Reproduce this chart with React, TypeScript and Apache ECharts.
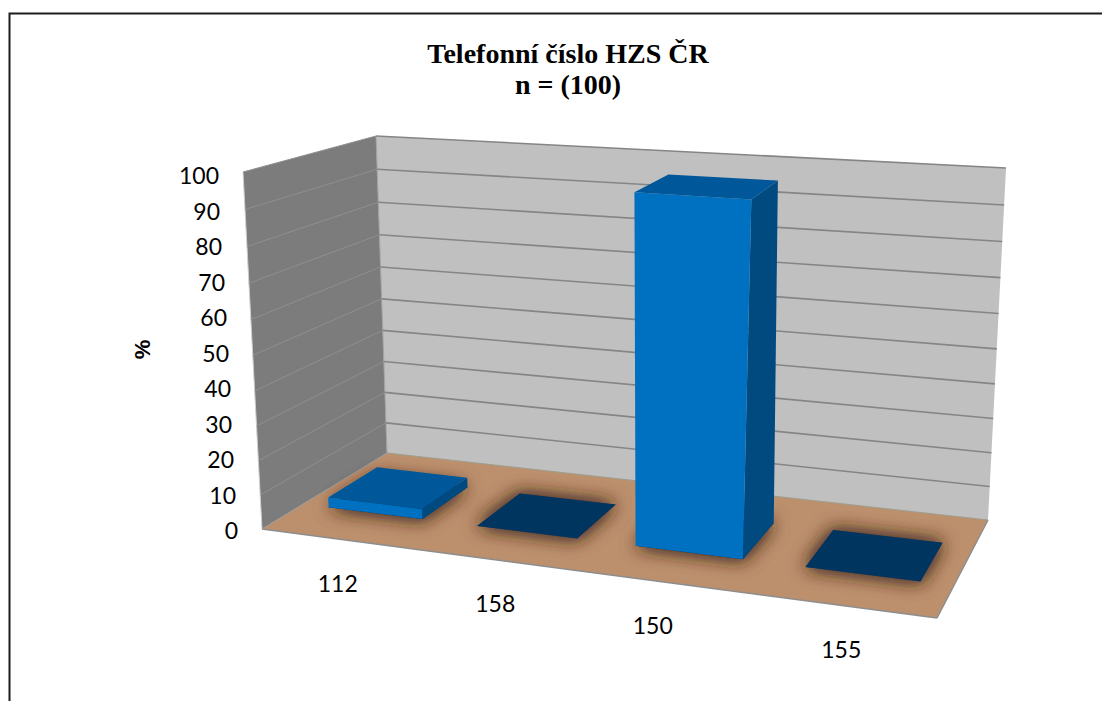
import React, { useEffect, useRef } from "react";
import * as echarts from "echarts";

const categories = ["112", "158", "150", "155"];
const percentValues = [3, 0, 97, 0];
const yTicks = [0, 10, 20, 30, 40, 50, 60, 70, 80, 90, 100];
const yLabelIndent: Record<number, number> = { 100: 19, 90: 18, 80: 16, 70: 13, 60: 11, 50: 9, 40: 7, 30: 6, 20: 4, 10: 2, 0: 0 };
const catLabelOffset = [
  [0, 0],
  [20, 0],
  [42, 0],
  [66, 62],
];
const titleText = "Telefonní číslo HZS ČR\nn = (100)";
const yName = "%";

type P = [number, number];
function quadMap(p0: P, p1: P, p2: P, p3: P) {
  const dx1 = p1[0] - p2[0], dx2 = p3[0] - p2[0], sx = p0[0] - p1[0] + p2[0] - p3[0];
  const dy1 = p1[1] - p2[1], dy2 = p3[1] - p2[1], sy = p0[1] - p1[1] + p2[1] - p3[1];
  const den = dx1 * dy2 - dx2 * dy1;
  const g = (sx * dy2 - dx2 * sy) / den;
  const h = (dx1 * sy - sx * dy1) / den;
  const a = p1[0] - p0[0] + g * p1[0], b = p3[0] - p0[0] + h * p3[0], c = p0[0];
  const d = p1[1] - p0[1] + g * p1[1], e = p3[1] - p0[1] + h * p3[1], f = p0[1];
  return (u: number, v: number): P => {
    const w = g * u + h * v + 1;
    return [(a * u + b * v + c) / w, (d * u + e * v + f) / w];
  };
}
// front-left, front-right, back-right, back-left
const floorMap = quadMap([262, 529], [937, 618], [988, 520], [387, 453]);
const ceilMap = quadMap([243, 172], [982, 220], [1006, 168], [376, 136]);
const project = (u: number, v: number, t0: number): P => {
  const t = t0 - 0.055 * t0 * (1 - t0); // foreshortening of the height axis
  const a = floorMap(u, v), b = ceilMap(u, v);
  return [a[0] + (b[0] - a[0]) * t, a[1] + (b[1] - a[1]) * t];
};

const GRID = { left: 259, right: 213, top: 175, bottom: 171 };
const BAR_FRACTION = 0.64;
const DEPTH0 = 0.3, DEPTH1 = 0.7;

const poly = (points: P[], style: any) => ({ type: "polygon", shape: { points }, style, silent: true });
const seg = (a: P, b: P, stroke: string, lineWidth: number) => ({
  type: "line",
  shape: { x1: a[0], y1: a[1], x2: b[0], y2: b[1] },
  style: { stroke, lineWidth },
  silent: true,
});

export default function App() {
  const ref = useRef<HTMLDivElement>(null);
  useEffect(() => {
    const chart = echarts.init(ref.current!, undefined, { renderer: "svg" });
    const rich: any = {};
    yTicks.forEach((t) => {
      rich["y" + t] = { fontFamily: "Lato", fontSize: 23, color: "#000", padding: [0, yLabelIndent[t], 0, 0] };
    });
    categories.forEach((c, i) => {
      rich["c" + i] = {
        fontFamily: "Lato",
        fontSize: 23,
        color: "#000",
        padding: [catLabelOffset[i][0], 0, 0, catLabelOffset[i][1]],
      };
    });
    chart.setOption({
      animation: false,
      backgroundColor: "#fff",
      title: {
        text: titleText,
        left: 563,
        top: 33,
        textAlign: "center",
        textStyle: { fontFamily: "Liberation Serif", fontWeight: "bold", fontSize: 28, lineHeight: 31, color: "#000" },
      },
      grid: GRID,
      xAxis: {
        type: "category",
        data: categories,
        axisLine: { show: false },
        axisTick: { show: false },
        splitLine: { show: false },
        axisLabel: {
          margin: 41,
          interval: 0,
          formatter: (v: string) => `{c${categories.indexOf(v)}|${v}}`,
          rich,
        },
      },
      yAxis: {
        type: "value",
        min: 0,
        max: 100,
        interval: 10,
        name: yName,
        nameLocation: "middle",
        nameRotate: 90,
        nameGap: 106,
        nameTextStyle: { fontFamily: "Liberation Sans", fontWeight: "bold", fontSize: 22, color: "#000", padding: [0, 0, 0, 6] },
        axisLine: { show: false },
        axisTick: { show: false },
        splitLine: { show: false },
        axisLabel: { margin: 21, formatter: (v: number) => `{y${v}|${v}}`, rich },
      },
      graphic: [
        {
          type: "polyline",
          shape: { points: [[9.5, 701], [9.5, 13.5], [1102, 13.5]] },
          style: { stroke: "#1c1c1c", lineWidth: 2, fill: "none" },
          silent: true,
        },
      ],
      series: [
        {
          type: "custom",
          name: "walls",
          coordinateSystem: "cartesian2d",
          data: [[0, 0]],
          encode: { x: 0, y: 1 },
          z: 1,
          renderItem: () => ({
            type: "group",
            children: [
              poly([project(0, 0, 0), project(0, 1, 0), project(0, 1, 1), project(0, 0, 1)], { fill: "#7c7c7c" }),
              poly([project(0, 1, 0), project(1, 1, 0), project(1, 1, 1), project(0, 1, 1)], { fill: "#c0c0c0" }),
              poly([project(0, 0, 0), project(1, 0, 0), project(1, 1, 0), project(0, 1, 0)], { fill: "#bc906d" }),
              seg(project(0, 0, 0), project(1, 0, 0), "#8d8d8d", 1.5),
              seg(project(1, 0, 0), project(1, 1, 0), "#8d8d8d", 1.5),
              seg(project(0, 1, 0), project(1, 1, 0), "#9c9c8c", 1),
              seg(project(0, 1, 0), project(0, 1, 1), "#a0a0a0", 1),
              seg(project(0, 0, 0), project(0, 0, 1), "#cfcfcf", 1),
              seg(project(0, 0, 0), project(0, 1, 0), "#9a9a9a", 1),
            ],
          }),
        },
        {
          type: "custom",
          name: "gridlines",
          coordinateSystem: "cartesian2d",
          data: yTicks.filter((t) => t > 0).map((t) => [0, t]),
          encode: { x: 0, y: 1 },
          z: 2,
          renderItem: (params: any, api: any) => {
            const sys = params.coordSys;
            const t = (sys.y + sys.height - api.coord([0, api.value(1)])[1]) / sys.height;
            return {
              type: "group",
              children: [
                seg(project(0, 0, t), project(0, 1, t), "#8f8f8f", 1),
                seg(project(0, 1, t), project(1, 1, t), "#858585", 1.6),
              ],
            };
          },
        },
        {
          type: "custom",
          name: "%",
          coordinateSystem: "cartesian2d",
          data: percentValues.map((v, i) => [i, v]),
          encode: { x: 0, y: 1 },
          z: 3,
          renderItem: (params: any, api: any) => {
            const sys = params.coordSys;
            const val = api.value(1);
            const pt = api.coord([api.value(0), val]);
            const bw = api.size([1, 0])[0] * BAR_FRACTION;
            const u0 = (pt[0] - bw / 2 - sys.x) / sys.width;
            const u1 = (pt[0] + bw / 2 - sys.x) / sys.width;
            const t = (sys.y + sys.height - pt[1]) / sys.height;
            const a = DEPTH0, b = DEPTH1;
            const style = { fill: "#00365f", shadowBlur: 18, shadowColor: "rgba(60,40,20,0.8)", shadowOffsetX: 0, shadowOffsetY: 0 };
            const corners = [project(u0, a, 0), project(u1, a, 0), project(u1, b, 0), project(u0, b, 0)];
            const base = [poly(corners, style), poly(corners, style)];
            if (val <= 0) return { type: "group", children: base };
            return {
              type: "group",
              children: [
                ...base,
                poly([project(u1, a, 0), project(u1, b, 0), project(u1, b, t), project(u1, a, t)], { fill: "#004a80" }),
                poly([project(u0, a, 0), project(u1, a, 0), project(u1, a, t), project(u0, a, t)], { fill: "#0070c0" }),
                poly([project(u0, a, t), project(u1, a, t), project(u1, b, t), project(u0, b, t)], { fill: "#00589a" }),
              ],
            };
          },
        },
      ],
    });
    return () => chart.dispose();
  }, []);
  return <div ref={ref} style={{ position: "absolute", left: 0, top: 0, width: 1102, height: 701 }} />;
}
